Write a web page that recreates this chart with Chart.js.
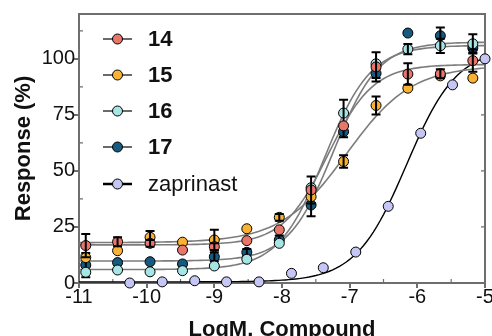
<!DOCTYPE html>
<html><head><meta charset="utf-8">
<script src="https://cdn.jsdelivr.net/npm/chart.js@4.4.1/dist/chart.umd.min.js"></script>
<style>html,body{margin:0;padding:0;background:#fff}#wrap{width:492px;height:336px}</style>
</head><body><div id="wrap"><canvas id="c" width="492" height="336"></canvas></div>
<script>
// ---- data ----
const seriesNames = ['14', '15', '16', '17', 'zaprinast'];
const xCompound = [-10.90, -10.43, -9.95, -9.47, -9.00, -8.52, -8.04, -7.57, -7.09, -6.61, -6.14, -5.66, -5.18];
const y14 = [16.7, 18.4, 17.7, 14.7, 16.2, 18.9, 23.7, 41.5, 70.1, 96.4, 93.2, 93.3, 99.2];
const y15 = [11.3, 14.4, 20.4, 18.2, 19.2, 24.2, 29.3, 38.5, 54.2, 79.2, 86.9, 92.4, 91.4];
const y16 = [4.8, 5.8, 5.0, 5.5, 7.6, 10.6, 17.7, 42.5, 75.8, 97.8, 104.3, 105.8, 106.7];
const y17 = [8.0, 9.1, 9.5, 8.5, 11.7, 13.7, 19.2, 34.8, 67.5, 93.5, 111.5, 110.3, 104.8];
const e14 = [5.2, 2.0, 1.5, 0, 1.5, 0, 0, 6.0, 0, 6.5, 4.8, 2.0, 5.0];
const e15 = [0, 0, 2.8, 0, 4.5, 0, 1.5, 0, 2.8, 4.0, 0, 0, 0];
const e16 = [0, 0, 0, 0, 0, 0, 0, 0, 6.0, 0, 2.3, 3.2, 4.3];
const e17 = [5.4, 0, 0, 0, 2.0, 1.5, 2.0, 5.0, 2.5, 2.0, 0, 3.7, 2.0];
const xZaprinast = [-10.25, -9.77, -9.29, -8.82, -8.34, -7.86, -7.39, -6.91, -6.43, -5.95, -5.48, -5.00];
const yZaprinast = [0, 0.5, 1.0, 0.5, 0.5, 4.3, 6.8, 13.8, 34.2, 66.8, 88.4, 100.0];
// fitted 4-parameter logistic curves (14, 15, 16, 17, zaprinast)
const fitBottom = [17, 18, 6, 9.8, 0.5];
const fitTop = [97.5, 97, 106, 107.5, 105];
const fitLogEC50 = [-7.32, -7.05, -7.37, -7.24, -6.16];
const fitHill = [1.3, 0.9, 1.27, 1.3, 1.16];
const xTicks = [-11, -10, -9, -8, -7, -6, -5];
const yTicks = [0, 25, 50, 75, 100];
const xMinorTicks = [-10.5, -9.5, -8.5, -7.5, -6.5, -5.5];
const yMinorTicks = [12.5, 37.5, 62.5, 87.5, 112.5];

// ---- styles ----
const FONT = "'Liberation Sans', Arial, sans-serif";
const colors = ['#e8766b', '#f9b233', '#a7e4e4', '#165a80', '#c6c6f5'];
const AXIS = '#6e6e6e';

function curve(i) {
  const pts = [];
  for (let k = 0; k <= 120; k++) {
    const x = -11 + k * 0.05;
    const y = fitBottom[i] + (fitTop[i] - fitBottom[i]) / (1 + Math.pow(10, (fitLogEC50[i] - x) * fitHill[i]));
    pts.push({x, y});
  }
  return pts;
}
const ys = [y14, y15, y16, y17];
const es = [e14, e15, e16, e17];

const datasets = [];
for (let i = 0; i < 4; i++) {
  datasets.push({
    label: seriesNames[i], data: xCompound.map((x, j) => ({x, y: ys[i][j]})), err: es[i],
    showLine: false, pointRadius: 5, pointHoverRadius: 5, backgroundColor: colors[i],
    borderColor: '#000', borderWidth: 1, order: i + 1, clip: false
  });
}
datasets.push({
  label: seriesNames[4], data: xZaprinast.map((x, j) => ({x, y: yZaprinast[j]})),
  showLine: false, pointRadius: 5, backgroundColor: colors[4], borderColor: '#000', borderWidth: 1, order: 5, clip: false
});
for (let i = 0; i < 5; i++) {
  datasets.push({
    label: 'fit ' + seriesNames[i], data: curve(i), showLine: true, pointRadius: 0,
    borderColor: i < 4 ? '#7c7c7c' : '#000', borderWidth: i < 4 ? 1.6 : 1.4, order: 50 + i, clip: false, isFit: true
  });
}

const errorBars = {
  id: 'errorBars',
  afterDatasetDraw(chart, args) {
    const ds = chart.data.datasets[args.index];
    if (!ds.err) return;
    const ctx = chart.ctx, ys = chart.scales.y;
    ctx.save();
    ctx.strokeStyle = '#000'; ctx.lineWidth = 2;
    args.meta.data.forEach((pt, j) => {
      const e = ds.err[j];
      if (!e) return;
      const v = ds.data[j].y;
      const yt = ys.getPixelForValue(v + e), yb = ys.getPixelForValue(v - e);
      ctx.beginPath();
      ctx.moveTo(pt.x, yt); ctx.lineTo(pt.x, yb);
      ctx.moveTo(pt.x - 4.5, yt); ctx.lineTo(pt.x + 4.5, yt);
      ctx.moveTo(pt.x - 4.5, yb); ctx.lineTo(pt.x + 4.5, yb);
      ctx.stroke();
    });
    ctx.restore();
  }
};

const frame = {
  id: 'frame',
  beforeDatasetsDraw(chart) {
    const {ctx, chartArea: a, scales} = chart;
    ctx.save();
    ctx.strokeStyle = AXIS; ctx.lineWidth = 2;
    ctx.beginPath();
    ctx.moveTo(a.left, a.top); ctx.lineTo(a.right, a.top); ctx.lineTo(a.right, a.bottom);
    ctx.stroke();
    ctx.lineWidth = 1.2;
    ctx.beginPath();
    yMinorTicks.forEach(v => { const y = scales.y.getPixelForValue(v); ctx.moveTo(a.left, y); ctx.lineTo(a.left + 4, y); });
    xMinorTicks.forEach(v => { const x = scales.x.getPixelForValue(v); ctx.moveTo(x, a.bottom); ctx.lineTo(x, a.bottom - 4); });
    yTicks.forEach(v => { if (v <= 0) return; const y = scales.y.getPixelForValue(v); ctx.moveTo(a.right, y); ctx.lineTo(a.right - 4, y); });
    ctx.stroke();
    ctx.restore();
  }
};

const legendRows = [39, 75, 111, 147, 184];
const legendBox = {
  id: 'legendBox',
  afterDraw(chart) {
    const ctx = chart.ctx;
    ctx.save();
    for (let i = 0; i < 5; i++) {
      const y = legendRows[i];
      ctx.strokeStyle = i < 4 ? '#6a6a6a' : '#000';
      ctx.lineWidth = i < 4 ? 2 : 2.5;
      ctx.beginPath(); ctx.moveTo(103, y); ctx.lineTo(132, y); ctx.stroke();
      ctx.fillStyle = colors[i]; ctx.strokeStyle = '#000'; ctx.lineWidth = 1;
      ctx.beginPath(); ctx.arc(117.5, y, 5, 0, Math.PI * 2); ctx.fill(); ctx.stroke();
      ctx.fillStyle = '#111';
      ctx.font = (i < 4 ? 'bold ' : '') + '22px ' + FONT;
      ctx.textBaseline = 'middle'; ctx.textAlign = 'left';
      ctx.fillText(seriesNames[i], 148, y + 1);
    }
    ctx.restore();
  }
};

new Chart(document.getElementById('c'), {
  type: 'scatter',
  data: {datasets},
  plugins: [errorBars, frame, legendBox],
  options: {
    responsive: false, animation: false, devicePixelRatio: 1,
    layout: {padding: {top: 14, right: 7, left: 0, bottom: 0}},
    plugins: {legend: {display: false}, tooltip: {enabled: false}},
    scales: {
      x: {
        type: 'linear', min: -11, max: -5,
        afterBuildTicks: s => { s.ticks = xTicks.map(v => ({value: v})); },
        afterFit: s => { s.height = 53; s.paddingLeft = 0; s.paddingRight = 0; },
        ticks: {font: {size: 20, family: FONT}, color: '#111', padding: -3, maxRotation: 0, autoSkip: false},
        grid: {drawOnChartArea: false, drawTicks: true, tickLength: 5, color: AXIS, lineWidth: 2},
        border: {color: AXIS, width: 2},
        title: {display: true, text: 'LogM, Compound', color: '#111', font: {size: 22, weight: 'bold', family: FONT}, padding: {top: 0, bottom: -7}}
      },
      y: {
        type: 'linear', min: 0, max: 120,
        afterBuildTicks: s => { s.ticks = yTicks.map(v => ({value: v})); },
        afterFit: s => { s.width = 79; s.paddingTop = 0; s.paddingBottom = 0; },
        ticks: {font: {size: 20, family: FONT}, color: '#111', padding: -1, autoSkip: false},
        grid: {drawOnChartArea: false, drawTicks: true, tickLength: 5, color: AXIS, lineWidth: 2},
        border: {color: AXIS, width: 2},
        title: {display: true, text: 'Response (%)', color: '#111', font: {size: 22, weight: 'bold', family: FONT}, padding: {top: 11, bottom: 0}}
      }
    }
  }
});
</script>
</body></html>
